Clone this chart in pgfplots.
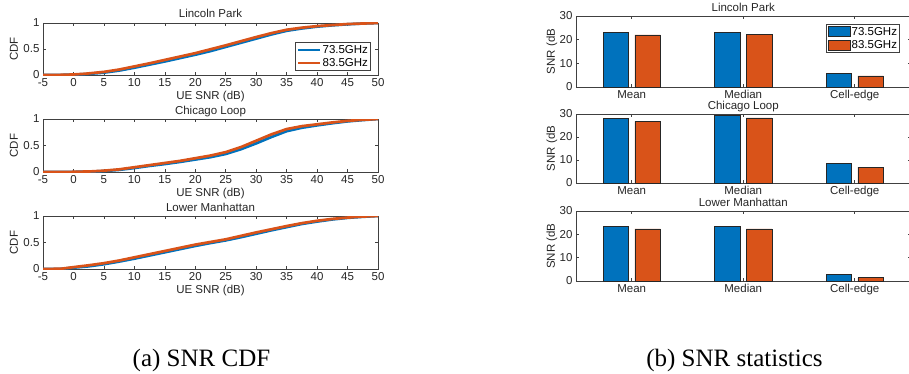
\documentclass[border=0pt]{standalone}
\usepackage{pgfplots}
\pgfplotsset{compat=1.18}
\usepackage{fontspec}
\setmainfont{Liberation Sans}
\newfontfamily\capfont{Liberation Serif}
\definecolor{mblue}{rgb}{0,0.447,0.741}
\definecolor{morange}{rgb}{0.85,0.325,0.098}
\definecolor{axgray}{rgb}{0.25,0.25,0.25}
\newcommand{\tf}{\fontsize{11.5}{13}\selectfont}
\pgfplotsset{
  every axis title shift=0pt,
  common/.style={
    scale only axis,
    /pgf/number format/assume math mode=true,
    axis line style={axgray, line width=0.6pt},
    every tick/.style={axgray, line width=0.6pt},
    tick align=inside,
    major tick length=3pt,
    tick label style={font=\tf, text=black!85},
    label style={font=\tf, text=black!85},
    title style={font=\tf, text=black!85, at={(axis description cs:0.5,1)}, anchor=base},
    legend style={font=\tf, draw=axgray, line width=0.6pt, inner xsep=1.5pt, inner ysep=1.5pt,
      nodes={inner sep=1.2pt}, row sep=1.5pt},
    legend cell align=left,
  },
  cdfax/.style={common,
    width=335pt, xmin=-5, xmax=50, ymin=0, ymax=1,
    xtick={-5,0,5,10,15,20,25,30,35,40,45,50},
    ytick={0,0.5,1}, yticklabels={0,0.5,1},
    xlabel={UE SNR (dB)}, ylabel={CDF},
    xlabel style={at={(axis description cs:0.5,0)}, anchor=center, yshift=-22pt},
    title style={yshift=5pt},
  },
  barax/.style={common,
    width=334.5pt, xmin=0.5, xmax=3.5, ymin=0, ymax=30,
    xtick={1,2,3}, xticklabels={Mean,Median,Cell-edge},
    ytick={0,10,20,30},
    ylabel={SNR (dB},
    ylabel style={at={(axis description cs:-0.0718,0.5)}, anchor=center},
    title style={yshift=4.5pt},
  },
  cdfline/.style={line width=2.7pt, line join=round,
    legend image code/.code={\draw[##1, line width=2.2pt] (0pt,0pt) -- (22pt,0pt);}},
  mybar/.style={ybar, bar width=0.229, draw=black!85, line width=0.6pt,
    legend image code/.code={\draw[##1] (0pt,-5pt) rectangle (22pt,5pt);}},
}
\begin{document}
\begin{tikzpicture}
% ---------- Left: CDFs ----------
\begin{axis}[cdfax, at={(43pt,298pt)}, anchor=south west, height=52pt,
  ylabel style={at={(axis description cs:-0.0866,0.5)}, anchor=center},
  title={Lincoln Park},
  legend style={at={(axis description cs:1,0)}, anchor=south east, xshift=-7pt, yshift=4pt}]
\addplot[cdfline, mblue] coordinates {(-5,0)(-2,0.002)(0,0.007)(2,0.017)(5,0.045)(7.5,0.085)(10,0.14)(12.5,0.2)(15,0.26)(17.5,0.325)(20,0.39)(22.5,0.46)(25,0.54)(27.5,0.62)(30,0.7)(32.5,0.78)(35,0.85)(37.5,0.895)(40,0.93)(42.5,0.955)(45,0.975)(47.5,0.99)(50,1)};
\addlegendentry{73.5GHz}
\addplot[cdfline, morange] coordinates {(-5,0)(-2,0.003)(0,0.01)(2,0.025)(5,0.06)(7.5,0.105)(10,0.165)(12.5,0.225)(15,0.29)(17.5,0.355)(20,0.42)(22.5,0.495)(25,0.57)(27.5,0.65)(30,0.73)(32.5,0.805)(35,0.87)(37.5,0.91)(40,0.94)(42.5,0.96)(45,0.98)(47.5,0.99)(50,1)};
\addlegendentry{83.5GHz}
\end{axis}
\begin{axis}[cdfax, at={(43pt,201pt)}, anchor=south west, height=53pt,
  ylabel style={at={(axis description cs:-0.0866,0.5)}, anchor=center},
  title={Chicago Loop}]
\addplot[cdfline, mblue] coordinates {(-5,0)(0,0.002)(3,0.008)(5,0.018)(7.5,0.04)(10,0.075)(12.5,0.115)(15,0.15)(17.5,0.19)(20,0.235)(22.5,0.28)(25,0.34)(27.5,0.43)(30,0.54)(32.5,0.66)(35,0.77)(37.5,0.835)(40,0.88)(42.5,0.92)(45,0.955)(47.5,0.98)(50,1)};
\addplot[cdfline, morange] coordinates {(-5,0)(0,0.003)(3,0.012)(5,0.025)(7.5,0.05)(10,0.09)(12.5,0.13)(15,0.17)(17.5,0.21)(20,0.26)(22.5,0.31)(25,0.375)(27.5,0.47)(30,0.59)(32.5,0.71)(35,0.81)(37.5,0.865)(40,0.9)(42.5,0.935)(45,0.965)(47.5,0.985)(50,1)};
\end{axis}
\begin{axis}[cdfax, at={(43pt,104pt)}, anchor=south west, height=53pt,
  ylabel style={at={(axis description cs:-0.0866,0.5)}, anchor=center},
  title={Lower Manhattan}]
\addplot[cdfline, mblue] coordinates {(-5,0)(-2,0.003)(0,0.025)(2.5,0.05)(5,0.09)(7.5,0.14)(10,0.195)(12.5,0.255)(15,0.315)(17.5,0.375)(20,0.435)(22.5,0.49)(25,0.54)(27.5,0.6)(30,0.665)(32.5,0.73)(35,0.79)(37.5,0.85)(40,0.895)(42.5,0.935)(45,0.965)(47.5,0.985)(50,1)};
\addplot[cdfline, morange] coordinates {(-5,0)(-2,0.005)(0,0.035)(2.5,0.07)(5,0.11)(7.5,0.16)(10,0.22)(12.5,0.28)(15,0.34)(17.5,0.4)(20,0.46)(22.5,0.51)(25,0.56)(27.5,0.625)(30,0.69)(32.5,0.75)(35,0.81)(37.5,0.865)(40,0.91)(42.5,0.945)(45,0.97)(47.5,0.99)(50,1)};
\end{axis}
% ---------- Right: bar statistics ----------
\begin{axis}[barax, at={(576pt,286pt)}, anchor=south west, height=71pt,
  title={Lincoln Park},
  legend style={at={(axis description cs:1,1)}, anchor=north east, xshift=-10.5pt, yshift=-8pt}]
\addplot[mybar, fill=mblue, bar shift=-0.143] coordinates {(1,23.05)(2,23.2)(3,5.8)};
\addlegendentry{73.5GHz}
\addplot[mybar, fill=morange, bar shift=0.143] coordinates {(1,22.05)(2,22.1)(3,4.65)};
\addlegendentry{83.5GHz}
\end{axis}
\begin{axis}[barax, at={(576pt,190pt)}, anchor=south west, height=69pt,
  title={Chicago Loop}]
\addplot[mybar, fill=mblue, bar shift=-0.143] coordinates {(1,28.0)(2,29.4)(3,8.4)};
\addplot[mybar, fill=morange, bar shift=0.143] coordinates {(1,26.8)(2,28.3)(3,6.9)};
\end{axis}
\begin{axis}[barax, at={(576pt,92pt)}, anchor=south west, height=70pt,
  title={Lower Manhattan}]
\addplot[mybar, fill=mblue, bar shift=-0.143] coordinates {(1,23.3)(2,23.4)(3,2.7)};
\addplot[mybar, fill=morange, bar shift=0.143] coordinates {(1,22.3)(2,22.3)(3,1.4)};
\end{axis}
% ---------- captions ----------
\node[anchor=base, font=\capfont\fontsize{25}{28}\selectfont] at (201.5pt,7pt) {(a) SNR CDF};
\node[anchor=base, font=\capfont\fontsize{25}{28}\selectfont] at (734.5pt,7pt) {(b) SNR statistics};
\pgfresetboundingbox
\path (0pt,0pt) rectangle (909pt,373pt);
\end{tikzpicture}
\end{document}
